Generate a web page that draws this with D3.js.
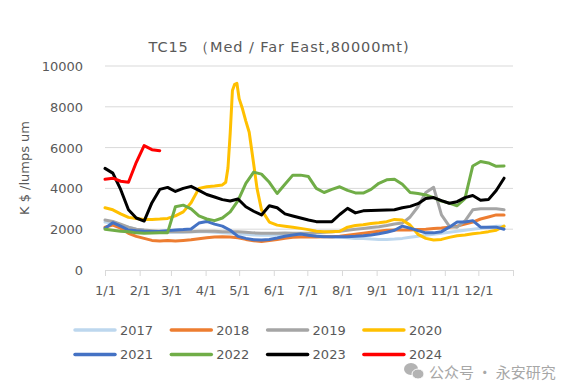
<!DOCTYPE html>
<html>
<head>
<meta charset="utf-8">
<script src="https://cdn.jsdelivr.net/npm/d3@7"></script>
<style>
  html, body { margin: 0; padding: 0; background: #fff; }
  svg { display: block; }
</style>
</head>
<body>
<svg id="chart" width="579" height="390"></svg>
<script>
// ---- Data ----
const title = "TC15 （Med / Far East,80000mt)";
const yTitle = "K $ /lumps um";
const years = ["2017", "2018", "2019", "2020", "2021", "2022", "2023", "2024"];
const monthLabels = ["1/1","2/1","3/1","4/1","5/1","6/1","7/1","8/1","9/1","10/1","11/1","12/1"];
const monthDays = [0,31,59,90,120,151,181,212,243,273,304,334,365];
const yTicks = [0, 2000, 4000, 6000, 8000, 10000];

// weekly observation days (day of year)
const weekDays = [0,7,14,21,28,35,42,49,56,63,70,77,84,91,98,105,112,119,126,133,140,147,154,161,168,175,182,189,196,203,210,217,224,231,238,245,252,259,266,273,280,287,294,301,308,315,322,329,336,343,350,357];

const v2017 = [2350,2300,2200,2100,2000,1950,1900,1880,1850,1850,1850,1870,1880,1870,1850,1820,1800,1780,1750,1720,1700,1700,1720,1750,1750,1720,1700,1680,1650,1620,1600,1580,1550,1550,1520,1500,1500,1520,1550,1600,1650,1700,1750,1800,1850,1900,1950,2000,2050,2100,2150,2150];
const v2018 = [2100,2200,2050,1800,1650,1550,1450,1420,1450,1420,1450,1480,1530,1580,1620,1630,1620,1580,1500,1430,1400,1450,1500,1560,1600,1620,1620,1620,1630,1630,1650,1700,1750,1800,1850,1900,1950,1960,1960,1960,1980,2000,2040,2060,2100,2150,2250,2350,2500,2600,2700,2700];
const v2019 = [2450,2380,2250,2100,2000,1960,1930,1900,1880,1880,1880,1880,1900,1900,1900,1880,1880,1870,1850,1820,1800,1800,1800,1810,1800,1800,1800,1820,1850,1880,1900,1950,2000,2040,2080,2120,2180,2250,2300,2600,3100,3800,4050,2700,2150,2100,2400,2950,3000,3000,3000,2950];
// 2020 sampled more finely around the May spike
const d2020 = [0,7,14,21,28,35,42,49,56,63,70,77,84,91,98,105,108,110,112,114,116,118,120,123,126,129,133,136,140,147,154,161,168,175,182,189,196,203,210,217,224,231,238,245,252,259,266,273,280,287,294,301,308,315,322,329,336,343,350,357];
const v2020 = [3050,2950,2750,2580,2520,2480,2480,2500,2530,2650,2850,3300,4000,4080,4120,4170,4300,5000,6700,8800,9100,9150,8400,7900,7300,6750,5200,4000,2950,2350,2200,2150,2100,2040,1980,1900,1870,1870,1900,2100,2180,2220,2280,2320,2370,2480,2450,2200,1750,1550,1470,1500,1600,1680,1720,1780,1820,1880,1950,2150];
const v2021 = [2050,2320,2150,1960,1920,1900,1890,1900,1930,1960,1980,2010,2300,2380,2250,2150,1950,1650,1550,1480,1470,1500,1570,1650,1720,1760,1700,1650,1630,1630,1630,1630,1650,1680,1720,1780,1850,1950,2150,2050,1930,1820,1820,1880,2100,2350,2350,2420,2100,2100,2100,2000];
const v2022 = [2000,1950,1900,1870,1820,1800,1810,1820,1830,3100,3180,3000,2650,2500,2420,2550,2850,3400,4250,4800,4700,4300,3750,4200,4650,4650,4580,4000,3800,3950,4080,3900,3780,3770,3950,4250,4420,4450,4200,3800,3750,3680,3550,3380,3280,3150,3500,5100,5320,5250,5080,5100];
const v2023 = [4980,4750,3950,2950,2550,2400,3300,3950,4050,3850,4000,4100,3900,3700,3580,3450,3380,3480,3100,2880,2700,3150,3050,2750,2650,2550,2450,2370,2370,2370,2720,3020,2800,2900,2920,2930,2940,2950,3050,3120,3250,3500,3550,3400,3270,3350,3550,3650,3420,3450,3900,4500];
const v2024 = [4450,4500,4350,4300,5280,6100,5900,5850];

const seriesColors = ["#BDD7EE","#ED7D31","#A5A5A5","#FFC000","#4472C4","#70AD47","#000000","#FF0000"];
const seriesValues = [v2017, v2018, v2019, v2020, v2021, v2022, v2023, v2024];
const seriesDays = [weekDays, weekDays, weekDays, d2020, weekDays, weekDays, weekDays, weekDays];

// ---- Chart ----
const svg = d3.select("#chart");
const font = "'DejaVu Sans', sans-serif";
const textColor = "#595959";

const x = d3.scaleLinear().domain([0, 365]).range([105, 513]);
const y = d3.scaleLinear().domain([0, 10000]).range([270, 66]);

// title
svg.append("text")
  .attr("x", 279).attr("y", 52)
  .attr("text-anchor", "middle")
  .attr("font-family", font).attr("font-size", 14.5)
  .attr("letter-spacing", 0.9)
  .attr("fill", textColor)
  .text(title);

// gridlines
svg.append("g").selectAll("line")
  .data(yTicks.filter(d => d > 0))
  .join("line")
  .attr("x1", x(0)).attr("x2", x(365))
  .attr("y1", d => y(d)).attr("y2", d => y(d))
  .attr("stroke", "#D9D9D9").attr("stroke-width", 1);

// y axis labels
const yAxis = d3.axisLeft(y).tickValues(yTicks).tickSize(0).tickPadding(0).tickFormat(d3.format("d"));
const gy = svg.append("g").attr("transform", "translate(83,0)").call(yAxis);
gy.select(".domain").remove();
gy.selectAll("text")
  .attr("font-family", font).attr("font-size", 13)
  .attr("fill", textColor).attr("dy", "0.35em");

// x axis
const xAxis = d3.axisBottom(x).tickValues(monthDays).tickSize(6).tickPadding(10)
  .tickFormat((d, i) => monthLabels[i] || "");
const gx = svg.append("g").attr("transform", `translate(0,${y(0)})`).call(xAxis);
gx.select(".domain").attr("stroke", "#D9D9D9").attr("d", `M${x(0)},0.5H${x(365)}`);
gx.selectAll(".tick line").attr("stroke", "#D9D9D9");
gx.selectAll("text")
  .attr("font-family", font).attr("font-size", 13)
  .attr("fill", textColor);

// y title
svg.append("text")
  .attr("transform", "translate(29,168) rotate(-90)")
  .attr("text-anchor", "middle")
  .attr("font-family", font).attr("font-size", 13)
  .attr("fill", textColor)
  .text(yTitle);

// lines
const line = d3.line().x(d => x(d[0])).y(d => y(d[1]));
const gLines = svg.append("g");
years.forEach((yr, i) => {
  const pts = seriesValues[i].map((v, j) => [seriesDays[i][j], v]);
  gLines.append("path")
    .datum(pts)
    .attr("fill", "none")
    .attr("stroke", seriesColors[i])
    .attr("stroke-width", 3)
    .attr("stroke-linejoin", "round")
    .attr("stroke-linecap", "round")
    .attr("d", line);
});

// legend
const legend = svg.append("g");
years.forEach((yr, i) => {
  const col = i % 4, row = Math.floor(i / 4);
  const lx = 75 + col * 96.3, ly = 330 + row * 24.5;
  legend.append("line")
    .attr("x1", lx).attr("x2", lx + 40)
    .attr("y1", ly).attr("y2", ly)
    .attr("stroke", seriesColors[i]).attr("stroke-width", 3.5)
    .attr("stroke-linecap", "round");
  legend.append("text")
    .attr("x", lx + 45).attr("y", ly).attr("dy", "0.36em")
    .attr("font-family", font).attr("font-size", 13)
    .attr("fill", textColor)
    .text(yr);
});

// watermark
const wm = svg.append("g").attr("opacity", 0.75);
wm.append("ellipse").attr("cx", 411).attr("cy", 369).attr("rx", 7).attr("ry", 6).attr("fill", "#9a9a9a");
wm.append("ellipse").attr("cx", 418).attr("cy", 374).attr("rx", 6).attr("ry", 5).attr("fill", "#9a9a9a").attr("stroke", "#fff").attr("stroke-width", 1);
wm.append("text")
  .attr("x", 429).attr("y", 373).attr("dy", "0.35em")
  .attr("font-family", "'Noto Sans CJK SC', sans-serif").attr("font-size", 15)
  .attr("fill", "#8a8a8a")
  .text("公众号 · 永安研究");
</script>
</body>
</html>
